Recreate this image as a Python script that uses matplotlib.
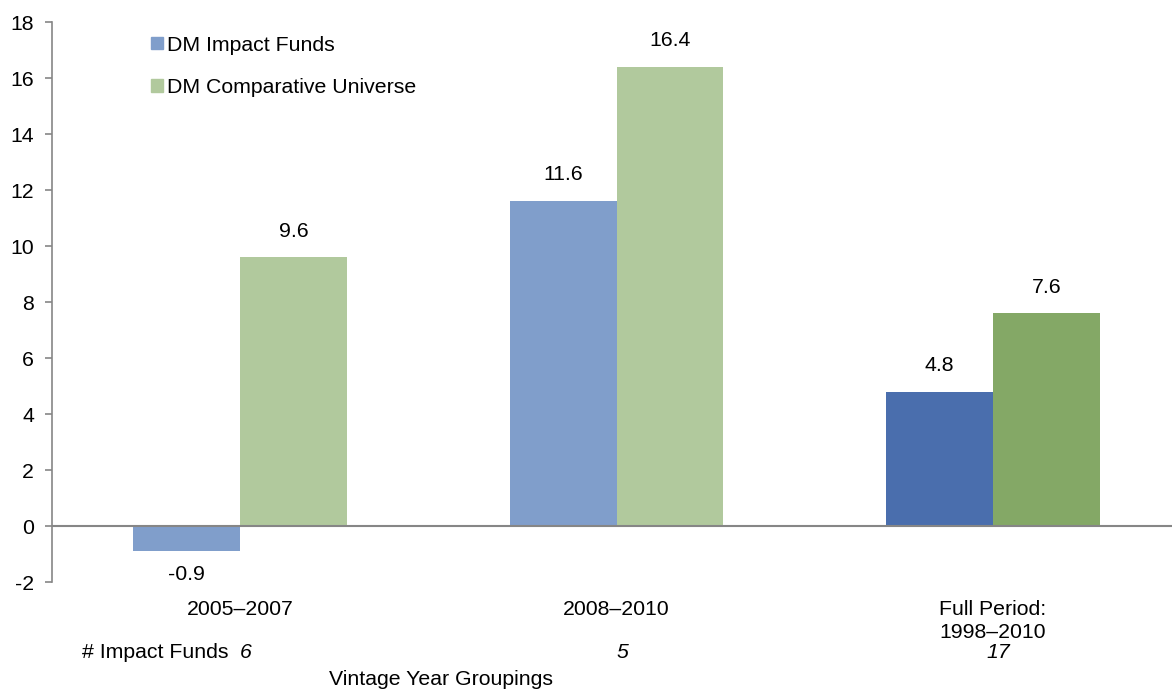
import matplotlib.pyplot as plt
import numpy as np

plt.rcParams['font.family'] = ['Liberation Sans', 'DejaVu Sans']
plt.rcParams['axes.unicode_minus'] = False

# datos
grupos = ['2005\u20132007', '2008\u20132010', 'Full Period:\n1998\u20132010']
n_fondos = ['6', '5', '17']
impact = [-0.9, 11.6, 4.8]
comparativo = [9.6, 16.4, 7.6]
etiquetas_serie = ['DM Impact Funds', 'DM Comparative Universe']

col_impact = ['#809ECB', '#809ECB', '#4A6EAD']
col_comp = ['#B1C99D', '#B1C99D', '#84A866']

fs = 15.3

fig = plt.figure(figsize=(11.72, 6.89), dpi=100)
ax = fig.add_axes([0.0444, 0.155, 0.9556, 0.813])

x = np.arange(len(grupos))
w = 0.284
ax.bar(x - w/2, impact, w, color=col_impact, label=etiquetas_serie[0])
ax.bar(x + w/2, comparativo, w, color=col_comp, label=etiquetas_serie[1])

# etiquetas de valor
for xi, v in zip(x - w/2, impact):
    if v < 0:
        ax.text(xi, v - 0.5, f'{v:.1f}', ha='center', va='top', fontsize=fs)
    else:
        ax.text(xi, v + 0.6, f'{v:.1f}', ha='center', va='bottom', fontsize=fs)
for xi, v in zip(x + w/2, comparativo):
    ax.text(xi, v + 0.6, f'{v:.1f}', ha='center', va='bottom', fontsize=fs)

ax.axhline(0, color='#868686', lw=1.5, zorder=3)

ax.set_ylim(-2, 18)
ax.set_xlim(-0.5, 2.476)
ax.set_yticks(np.arange(-2, 19, 2))
ax.tick_params(axis='y', labelsize=fs, length=5, width=1.2, color='#868686', pad=8)
ax.set_xticks([])
for s in ['top', 'right', 'bottom']:
    ax.spines[s].set_visible(False)
ax.spines['left'].set_color('#868686')
ax.spines['left'].set_linewidth(1.2)

# categorias debajo del eje
for xi, g, n in zip(x, grupos, n_fondos):
    ax.text(xi, -2.62, g, ha='center', va='top', fontsize=fs, linespacing=1.3, clip_on=False)
    ax.text(xi + 0.015, -4.5, n, ha='center', va='center', fontsize=fs, style='italic', clip_on=False)
ax.text(-0.03, -4.5, '# Impact Funds', ha='right', va='center', fontsize=fs, clip_on=False)
ax.text(0.534, -5.46, 'Vintage Year Groupings', ha='center', va='center', fontsize=fs, clip_on=False)

h1 = plt.Rectangle((0, 0), 1, 1, color='#809ECB')
h2 = plt.Rectangle((0, 0), 1, 1, color='#B1C99D')
ax.legend([h1, h2], etiquetas_serie, loc='upper left', bbox_to_anchor=(0.0715, 1.01),
          frameon=False, fontsize=fs, handlelength=0.55, handleheight=0.55,
          handletextpad=0.2, labelspacing=1.1)

fig.savefig('out.png', dpi=100)
